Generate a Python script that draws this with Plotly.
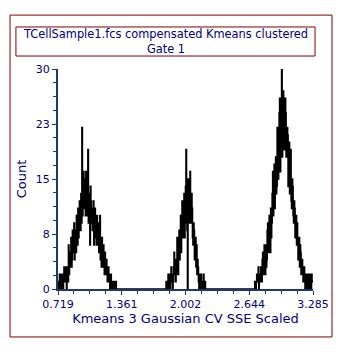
import plotly.graph_objects as go

# ---- data ----
x_min = 0.719
x_max = 3.285
n_bins = 512
y_max = 30

x_tick_vals = [0.719, 1.3605, 2.002, 2.6435, 3.285]
x_tick_text = ["0.719", "1.361", "2.002", "2.644", "3.285"]
y_tick_vals = [0, 7.5, 15, 22.5, 30]
y_tick_text = ["0", "8", "15", "23", "30"]

cluster1_start = 0.719
cluster1_counts = [
    1, 0, 1, 2, 0, 1, 2, 0, 1, 2, 0, 2, 3, 1, 2, 1, 3, 0, 2, 3,
    1, 6, 2, 4, 3, 5, 7, 3, 4, 8, 5, 7, 9, 4, 6, 8, 5, 10, 9, 6,
    11, 7, 8, 12, 10, 8, 13, 9, 22, 10, 12, 16, 11, 15, 14, 10, 16, 11, 10, 14,
    19, 9, 13, 9, 6, 14, 12, 9, 11, 8, 9, 12, 6, 10, 11, 7, 8, 6, 10, 6,
    7, 9, 5, 8, 10, 4, 6, 3, 7, 5, 3, 6, 4, 2, 5, 3, 2, 4, 3, 1,
    2, 3, 1, 2, 0, 1, 2, 0, 1, 0, 0, 1, 1, 0, 0, 1, 1, 0, 0, 0,
]

cluster2_start = 1.806
cluster2_counts = [
    1, 0, 0, 1, 2, 0, 1, 2, 0, 2, 3, 1, 2, 0, 1, 3, 5, 2, 3, 1,
    4, 2, 7, 3, 2, 5, 8, 4, 6, 10, 5, 9, 12, 7, 8, 11, 13, 7, 10, 14,
    19, 9, 8, 0, 15, 11, 12, 9, 16, 10, 9, 13, 11, 7, 6, 9, 8, 4, 5, 7,
    3, 6, 2, 4, 3, 1, 0, 2, 1, 0, 2, 0, 0, 1, 1, 2, 0, 1, 1, 0,
]

cluster3_start = 2.700
cluster3_counts = [
    1, 0, 0, 1, 2, 1, 1, 3, 0, 2, 2, 1, 3, 2, 1, 4, 5, 2, 3, 6,
    4, 2, 6, 3, 4, 8, 9, 5, 6, 10, 8, 5, 11, 7, 9, 13, 16, 10, 12, 17,
    11, 15, 18, 13, 14, 22, 20, 15, 17, 24, 26, 16, 19, 23, 30, 18, 22, 27, 25, 19,
    20, 26, 24, 18, 19, 22, 21, 14, 16, 20, 13, 18, 19, 12, 11, 15, 14, 10, 9, 12,
    11, 7, 8, 10, 6, 9, 7, 4, 5, 7, 3, 6, 5, 2, 2, 4, 3, 1, 1, 3,
    2, 0, 1, 2, 0, 2, 1, 0, 2, 1, 0, 2, 1, 0, 2, 1, 1,
]

# ---- build histogram on uniform bins ----
bin_w = (x_max - x_min) / n_bins
counts = [0] * n_bins
for start, vals in [(cluster1_start, cluster1_counts),
                    (cluster2_start, cluster2_counts),
                    (cluster3_start, cluster3_counts)]:
    i0 = int(round((start - x_min) / bin_w))
    for k, v in enumerate(vals):
        if 0 <= i0 + k < n_bins:
            counts[i0 + k] = v
edges = [x_min + i * bin_w for i in range(n_bins)]
xs = edges + [x_max]
ys = counts + [counts[-1]]

NAVY = "#000080"
AXIS = "#1a3a6e"
MAROON = "#800000"
FONT = "DejaVu Sans"

fig = go.Figure()
fig.add_trace(go.Scatter(x=xs, y=ys, mode="lines", line=dict(color="black", width=1.6, shape="hv"),
                         hoverinfo="skip", showlegend=False, cliponaxis=True))

x_minor = []
for a, b in zip(x_tick_vals[:-1], x_tick_vals[1:]):
    x_minor += [a + (b - a) * f for f in (0.25, 0.5, 0.75)]
y_minor = []
for a, b in zip(y_tick_vals[:-1], y_tick_vals[1:]):
    y_minor += [a + (b - a) * f for f in (0.25, 0.5, 0.75)]

fig.update_layout(
    width=351, height=352,
    margin=dict(l=58, r=38, t=69, b=63),
    paper_bgcolor="white", plot_bgcolor="white",
    font=dict(family=FONT, size=11, color=NAVY),
    xaxis=dict(range=[x_min, x_max], showgrid=False, zeroline=False,
               showline=True, linecolor=AXIS, linewidth=2,
               ticks="outside", ticklen=4, tickcolor=AXIS, tickwidth=1,
               tickmode="array", tickvals=x_tick_vals, ticktext=x_tick_text,
               tickfont=dict(family=FONT, size=11, color=NAVY),
               minor=dict(tickmode="array", tickvals=x_minor, ticks="outside", ticklen=3,
                          tickcolor=AXIS, tickwidth=1),
               title=dict(text="Kmeans 3 Gaussian CV SSE Scaled", standoff=3,
                          font=dict(family=FONT, size=13, color=NAVY))),
    yaxis=dict(range=[0, y_max], showgrid=False, zeroline=False,
               showline=True, linecolor=AXIS, linewidth=2,
               ticks="outside", ticklen=4, tickcolor=AXIS, tickwidth=1,
               tickmode="array", tickvals=y_tick_vals, ticktext=y_tick_text,
               tickfont=dict(family=FONT, size=11, color=NAVY),
               minor=dict(tickmode="array", tickvals=y_minor, ticks="outside", ticklen=3,
                          tickcolor=AXIS, tickwidth=1),
               title=dict(text="Count", standoff=6,
                          font=dict(family=FONT, size=13, color=NAVY))),
    shapes=[
        dict(type="rect", xref="paper", yref="paper", x0=-0.188, x1=1.0745, y0=-0.218, y1=1.245,
             line=dict(color=MAROON, width=1), fillcolor="rgba(0,0,0,0)", layer="below"),
        dict(type="rect", xref="paper", yref="paper", x0=-0.165, x1=1.008, y0=1.059, y1=1.191,
             line=dict(color=MAROON, width=1), fillcolor="rgba(0,0,0,0)", layer="below"),
    ],
    annotations=[
        dict(text="TCellSample1.fcs compensated Kmeans clustered<br>Gate 1", xref="paper", yref="paper",
             x=0.4216, y=1.125, xanchor="center", yanchor="middle", showarrow=False,
             font=dict(family=FONT, size=11.4, color=NAVY), align="center"),
    ],
)

fig.write_html("out.html")
